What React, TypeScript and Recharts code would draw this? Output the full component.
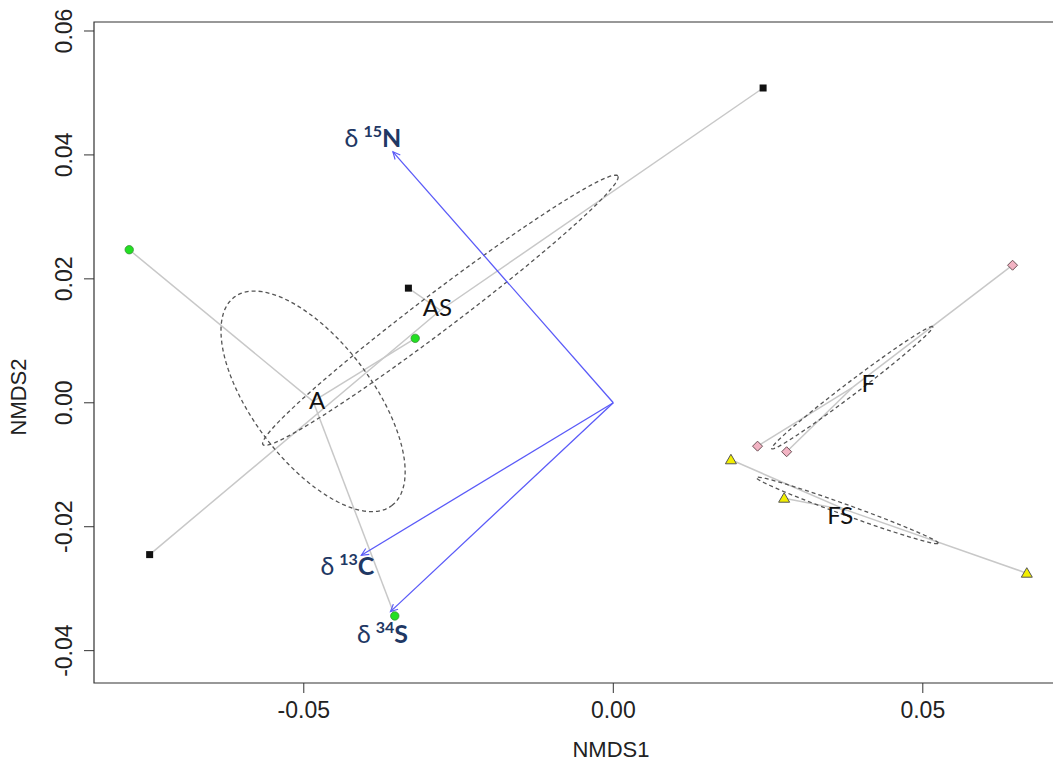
import { ScatterChart, Scatter, XAxis, YAxis, ReferenceArea } from "recharts";

// NMDS sample scores per group
const groupNames = ["AS", "A", "F", "FS"];
const asX = [0.0242, -0.0331, -0.0749];
const asY = [0.0508, 0.0185, -0.0245];
const aX = [-0.0782, -0.032, -0.0353];
const aY = [0.0247, 0.0104, -0.0344];
const fX = [0.0645, 0.0233, 0.028];
const fY = [0.0222, -0.007, -0.0079];
const fsX = [0.019, 0.0276, 0.0668];
const fsY = [-0.0092, -0.0154, -0.0275];

// envfit vectors
const vecIso = ["15", "13", "34"];
const vecEl = ["N", "C", "S"];
const vecX = [-0.0356, -0.0407, -0.036];
const vecY = [0.0405, -0.0246, -0.0337];

const xTicks = [-0.05, 0, 0.05];
const yTicks = [-0.04, -0.02, 0, 0.02, 0.04, 0.06];
const xDomain: [number, number] = [-0.08389, 0.08347];
const yDomain: [number, number] = [-0.04522, 0.06145];

type Pt = { x: number; y: number; i?: number; tip?: boolean };

const mean = (v: number[]) => v.reduce((s, a) => s + a, 0) / v.length;

// standard-error ellipse like vegan::ordiellipse(kind = "se")
function seEllipse(xs: number[], ys: number[]): Pt[] {
  const n = xs.length;
  const mx = mean(xs);
  const my = mean(ys);
  let sxx = 0, syy = 0, sxy = 0;
  for (let i = 0; i < n; i++) {
    sxx += (xs[i] - mx) ** 2;
    syy += (ys[i] - my) ** 2;
    sxy += (xs[i] - mx) * (ys[i] - my);
  }
  const k = (n - 1) * n;
  sxx /= k; syy /= k; sxy /= k;
  const tr = sxx + syy;
  const det = sxx * syy - sxy * sxy;
  const disc = Math.sqrt(Math.max(tr * tr / 4 - det, 0));
  const a = Math.sqrt(tr / 2 + disc);
  const b = Math.sqrt(Math.max(tr / 2 - disc, 0));
  const ang = 0.5 * Math.atan2(2 * sxy, sxx - syy);
  const out: Pt[] = [];
  for (let j = 0; j <= 100; j++) {
    const t = (j / 100) * 2 * Math.PI;
    out.push({
      x: mx + a * Math.cos(t) * Math.cos(ang) - b * Math.sin(t) * Math.sin(ang),
      y: my + a * Math.cos(t) * Math.sin(ang) + b * Math.sin(t) * Math.cos(ang),
    });
  }
  return out;
}

const groups = [
  { name: groupNames[0], xs: asX, ys: asY, kind: "square", nudge: [-3, -2] },
  { name: groupNames[1], xs: aX, ys: aY, kind: "circle", nudge: [4, 0] },
  { name: groupNames[2], xs: fX, ys: fY, kind: "diamond", nudge: [16, -4] },
  { name: groupNames[3], xs: fsX, ys: fsY, kind: "triangle", nudge: [-7, 6] },
];

const vecNudge = [[-20, -14], [-14, 11], [-8, 22]];

const tickFont = "'Liberation Sans', Arial, sans-serif";
const labFont = "Lato, 'Open Sans', sans-serif";
const none = () => <g />;

function marker(kind: string) {
  return (p: any) => {
    const { cx, cy } = p;
    if (kind === "square")
      return <rect x={cx - 3.5} y={cy - 3.5} width={7} height={7} fill="#111" />;
    if (kind === "circle")
      return <circle cx={cx} cy={cy} r={4.2} fill="#22e022" stroke="#3a8f3a" strokeWidth={0.8} />;
    if (kind === "diamond")
      return (
        <polygon
          points={`${cx},${cy - 5} ${cx + 5},${cy} ${cx},${cy + 5} ${cx - 5},${cy}`}
          fill="#f2b3c3"
          stroke="#6b5055"
          strokeWidth={1}
        />
      );
    return (
      <polygon
        points={`${cx},${cy - 5.5} ${cx + 5.5},${cy + 4} ${cx - 5.5},${cy + 4}`}
        fill="#f2ee00"
        stroke="#555"
        strokeWidth={1}
      />
    );
  };
}

function ArrowHead(p: any) {
  const { cx, cy, payload } = p;
  if (!payload.tip) return <g />;
  // asp = 1, so data direction equals screen direction (y flipped)
  const ang = Math.atan2(-payload.y, payload.x);
  const len = 8;
  const a1 = ang + Math.PI - Math.PI / 7;
  const a2 = ang + Math.PI + Math.PI / 7;
  return (
    <polyline
      points={`${cx + len * Math.cos(a1)},${cy + len * Math.sin(a1)} ${cx},${cy} ${cx + len * Math.cos(a2)},${cy + len * Math.sin(a2)}`}
      fill="none"
      stroke="#5a5af8"
      strokeWidth={1.2}
    />
  );
}

function VecLabel(p: any) {
  const { cx, cy, payload } = p;
  const i = payload.i;
  const [dx, dy] = vecNudge[i];
  return (
    <text x={cx + dx} y={cy + dy + 9} textAnchor="middle" fontFamily={labFont} fill="#1f3864" fontSize={25}>
      <tspan>δ</tspan>
      <tspan dx={5} dy={-10} fontSize={16} fontWeight={700}>{vecIso[i]}</tspan>
      <tspan dy={10} fontSize={25} fontWeight={700}>{vecEl[i]}</tspan>
    </text>
  );
}

function XTick(p: any) {
  return (
    <text x={p.x} y={p.y + 25} textAnchor="middle" fontSize={23} fontFamily={tickFont} fill="#222">
      {Number(p.payload.value).toFixed(2)}
    </text>
  );
}

function YTick(p: any) {
  const x = p.x - 12;
  return (
    <text x={x} y={p.y} transform={`rotate(-90, ${x}, ${p.y})`} textAnchor="middle" fontSize={23} fontFamily={tickFont} fill="#222">
      {Number(p.payload.value).toFixed(2)}
    </text>
  );
}

export default function App() {
  return (
    <div style={{ position: "absolute", left: 0, top: 0, width: 1053, height: 764, overflow: "hidden", background: "#fff" }}>
      <ScatterChart width={1140} height={764} margin={{ top: 22, right: 10, bottom: 21, left: 34 }}>
        <XAxis
          type="number"
          dataKey="x"
          domain={xDomain}
          allowDataOverflow
          ticks={xTicks}
          interval={0}
          axisLine={false}
          tickLine={{ stroke: "#333" }}
          tickSize={10}
          tickMargin={0}
          height={60}
          tick={(p: any) => <XTick {...p} />}
          label={{
            content: () => (
              <text x={611} y={757} textAnchor="middle" fontSize={22} fontFamily={tickFont} fill="#222">
                NMDS1
              </text>
            ),
          }}
        />
        <YAxis
          type="number"
          dataKey="y"
          domain={yDomain}
          allowDataOverflow
          ticks={yTicks}
          interval={0}
          axisLine={false}
          tickLine={{ stroke: "#333" }}
          tickSize={10}
          tickMargin={0}
          width={60}
          tick={(p: any) => <YTick {...p} />}
          label={{
            content: () => (
              <text x={26} y={397} transform="rotate(-90, 26, 397)" textAnchor="middle" fontSize={22} fontFamily={tickFont} fill="#222">
                NMDS2
              </text>
            ),
          }}
        />
        <ReferenceArea x1={xDomain[0]} x2={xDomain[1]} y1={yDomain[0]} y2={yDomain[1]} fill="none" stroke="#333" strokeWidth={1.2} ifOverflow="visible" />

        {/* spiders */}
        {groups.flatMap((g) =>
          g.xs.map((x, j) => (
            <Scatter
              key={`sp-${g.name}-${j}`}
              data={[{ x: mean(g.xs), y: mean(g.ys) }, { x, y: g.ys[j] }]}
              line={{ stroke: "#c8c8c8", strokeWidth: 1.5 }}
              lineType="joint"
              shape={none}
              isAnimationActive={false}
            />
          ))
        )}

        {/* ellipses */}
        {groups.map((g) => (
          <Scatter
            key={`el-${g.name}`}
            data={seEllipse(g.xs, g.ys)}
            line={{ stroke: "#555", strokeWidth: 1.3, strokeDasharray: "4 3" }}
            lineType="joint"
            shape={none}
            isAnimationActive={false}
          />
        ))}

        {/* vectors */}
        {vecX.map((x, i) => (
          <Scatter
            key={`vec-${i}`}
            data={[{ x: 0, y: 0 }, { x, y: vecY[i], tip: true }]}
            line={{ stroke: "#5a5af8", strokeWidth: 1.3 }}
            lineType="joint"
            shape={ArrowHead}
            isAnimationActive={false}
          />
        ))}

        {/* sample points */}
        {groups.map((g) => (
          <Scatter
            key={`pt-${g.name}`}
            data={g.xs.map((x, j) => ({ x, y: g.ys[j] }))}
            shape={marker(g.kind)}
            isAnimationActive={false}
          />
        ))}

        {/* group labels at centroids */}
        {groups.map((g) => (
          <Scatter
            key={`lab-${g.name}`}
            data={[{ x: mean(g.xs), y: mean(g.ys) }]}
            shape={(p: any) => (
              <text x={p.cx + g.nudge[0]} y={p.cy + g.nudge[1] + 8} textAnchor="middle" fontSize={24} fontFamily={labFont} fill="#111">
                {g.name}
              </text>
            )}
            isAnimationActive={false}
          />
        ))}

        {/* vector labels */}
        <Scatter
          data={vecX.map((x, i) => ({ x, y: vecY[i], i }))}
          shape={VecLabel}
          isAnimationActive={false}
        />
      </ScatterChart>
    </div>
  );
}
